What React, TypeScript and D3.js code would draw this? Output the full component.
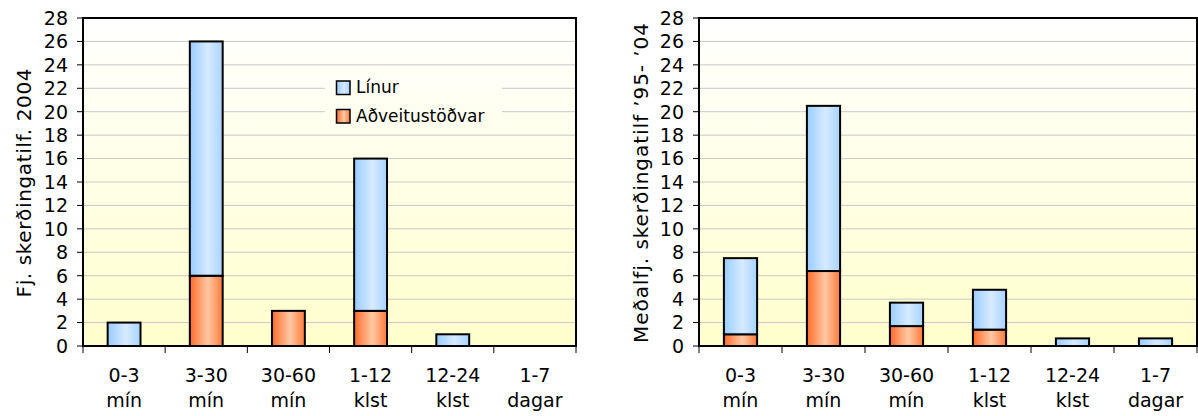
import React from "react";
import * as d3 from "d3";

const categories = ["0-3|mín", "3-30|mín", "30-60|mín", "1-12|klst", "12-24|klst", "1-7|dagar"];
const seriesNames = ["Línur", "Aðveitustöðvar"];
const left2004Stodvar = [0, 6, 3, 3, 0, 0];
const left2004Linur = [2, 20, 0, 13, 1, 0];
const rightAvgStodvar = [1, 6.4, 1.7, 1.4, 0, 0];
const rightAvgLinur = [6.5, 14.1, 2.0, 3.4, 0.65, 0.65];
const yTicks = d3.range(0, 29, 2);
const leftTitle = "Fj. skerðingatilf. 2004";
const rightTitle = "Meðalfj. skerðingatilf ’95- ’04";

const W = 1198;
const H = 416;
const TOP = 18;
const BOTTOM = 346;
const tickFont = "DejaVu Sans, Verdana, sans-serif";

function Panel({ x0, x1, stodvar, linur, title, titleX, titleLen, legend }: any) {
  const x = d3.scaleBand().domain(categories).range([x0, x1]).paddingInner(0.6).paddingOuter(0.3);
  const y = d3.scaleLinear().domain([0, 28]).range([BOTTOM, TOP]);
  const band = (x1 - x0) / categories.length;
  return (
    <g>
      <rect x={x0} y={TOP} width={x1 - x0} height={BOTTOM - TOP} fill="url(#bg)" />
      {yTicks.map((t) => (
        <line key={t} x1={x0} x2={x1} y1={y(t)} y2={y(t)} stroke="#c8c8c8" strokeWidth={1} />
      ))}
      {legend && (
        <rect x={325} y={70} width={177} height={60} fill="url(#bgLegend)" />
      )}
      {categories.map((c, i) => {
        const bx = x(c)!;
        const bw = x.bandwidth();
        const s = stodvar[i];
        const l = linur[i];
        return (
          <g key={c}>
            {s > 0 && (
              <rect x={bx} y={y(s)} width={bw} height={y(0) - y(s)} fill="url(#gOrange)" stroke="#000" strokeWidth={2} />
            )}
            {l > 0 && (
              <rect x={bx} y={y(s + l)} width={bw} height={y(s) - y(s + l)} fill="url(#gBlue)" stroke="#000" strokeWidth={2} />
            )}
          </g>
        );
      })}
      <rect x={x0} y={TOP} width={x1 - x0} height={BOTTOM - TOP} fill="none" stroke="#000" strokeWidth={2} />
      {yTicks.map((t) => (
        <g key={"t" + t}>
          <line x1={x0 - 6} x2={x0} y1={y(t)} y2={y(t)} stroke="#000" strokeWidth={1} />
          <text x={x0 - 15} y={y(t)} dy="0.36em" textAnchor="end" fontFamily={tickFont} fontSize={19} fill="#000">
            {t}
          </text>
        </g>
      ))}
      {d3.range(categories.length + 1).map((i) => (
        <line key={"xt" + i} x1={x0 + i * band} x2={x0 + i * band} y1={BOTTOM} y2={BOTTOM + 7} stroke="#000" strokeWidth={1} />
      ))}
      {categories.map((c) => {
        const cx = x(c)! + x.bandwidth() / 2;
        const [a, b] = c.split("|");
        return (
          <text key={"l" + c} x={cx} textAnchor="middle" fontFamily={tickFont} fontSize={19} fill="#000">
            <tspan x={cx} y={382}>{a}</tspan>
            <tspan x={cx} y={407}>{b}</tspan>
          </text>
        );
      })}
      <text
        transform={`translate(${titleX},${(TOP + BOTTOM) / 2 + 1}) rotate(-90)`}
        textAnchor="middle"
        fontFamily={tickFont}
        fontSize={20}
        fill="#000"
        textLength={titleLen}
        lengthAdjust="spacing"
      >
        {title}
      </text>
    </g>
  );
}

export default function App() {
  return (
    <svg width={W} height={H} style={{ position: "absolute", left: 0, top: 0 }}>
      <defs>
        <linearGradient id="bg" x1="0" y1="0" x2="0" y2="1">
          <stop offset="0%" stopColor="#ffffff" />
          <stop offset="100%" stopColor="#ffffcc" />
        </linearGradient>
        <linearGradient id="bgLegend" gradientUnits="userSpaceOnUse" x1="0" y1={TOP} x2="0" y2={BOTTOM}>
          <stop offset="0%" stopColor="#ffffff" />
          <stop offset="100%" stopColor="#ffffcc" />
        </linearGradient>
        <linearGradient id="gBlue" x1="0" y1="0" x2="1" y2="0">
          <stop offset="0%" stopColor="#99ccff" />
          <stop offset="55%" stopColor="#d6ebff" />
          <stop offset="100%" stopColor="#a8d3ff" />
        </linearGradient>
        <linearGradient id="gOrange" x1="0" y1="0" x2="1" y2="0">
          <stop offset="0%" stopColor="#ff6a2a" />
          <stop offset="55%" stopColor="#ffc8a4" />
          <stop offset="100%" stopColor="#ff7a3a" />
        </linearGradient>
      </defs>
      <Panel x0={83} x1={576} stodvar={left2004Stodvar} linur={left2004Linur} title={leftTitle} titleX={31} titleLen={229} legend />
      <Panel x0={699} x1={1197} stodvar={rightAvgStodvar} linur={rightAvgLinur} title={rightTitle} titleX={648} titleLen={320} />
      <g fontFamily={tickFont} fontSize={17} fill="#000">
        {seriesNames.map((n, i) => (
          <g key={n}>
            <rect x={336.5} y={81 + i * 28.5} width={13.5} height={13.5} fill={i === 0 ? "url(#gBlue)" : "url(#gOrange)"} stroke="#000" strokeWidth={1.5} />
            <text x={356} y={93 + i * 28.5}>{n}</text>
          </g>
        ))}
      </g>
    </svg>
  );
}
